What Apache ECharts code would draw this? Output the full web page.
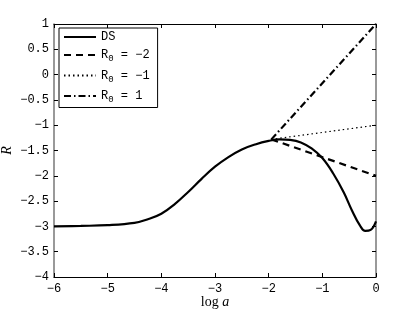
<!DOCTYPE html>
<html>
<head>
<meta charset="utf-8">
<script src="https://cdn.jsdelivr.net/npm/echarts@6/dist/echarts.min.js"></script>
<style>html,body{margin:0;padding:0;background:#fff}#c{width:415px;height:313px}</style>
</head>
<body>
<div id="c"></div>
<script>
const dsX = [-6, -5.5, -5, -4.5, -4.25, -4, -3.75, -3.5, -3.25, -3, -2.75, -2.5, -2.25, -2, -1.8, -1.6, -1.4, -1.2, -1.0, -0.8, -0.6, -0.45, -0.3, -0.2, -0.1, 0];
const dsY = [-3.00, -2.99, -2.975, -2.93, -2.86, -2.75, -2.56, -2.32, -2.06, -1.82, -1.63, -1.48, -1.38, -1.31, -1.28, -1.29, -1.34, -1.46, -1.65, -1.95, -2.33, -2.68, -2.98, -3.09, -3.07, -2.90];
const lineX = [-1.95, 0];
const r0m2Y = [-1.28, -2];
const r0m1Y = [-1.28, -1];
const r0p1Y = [-1.28, 1];
const xTicks = [-6, -5, -4, -3, -2, -1, 0];
const yTicks = [-4, -3.5, -3, -2.5, -2, -1.5, -1, -0.5, 0, 0.5, 1];

const pairs = (xs, ys) => xs.map((x, i) => [x, ys[i]]);
const fmt = v => (v < 0 ? '\u2212' : '') + String(Math.abs(v));
const mono = '"Liberation Mono", "DejaVu Sans Mono", monospace';

const chart = echarts.init(document.getElementById('c'), null, {renderer: 'canvas'});
const baseX = {type: 'value', min: -6, max: 0, interval: 1, splitLine: {show: false}};
const baseY = {type: 'value', min: -4, max: 1, interval: 0.5, splitLine: {show: false}};
chart.setOption({
  animation: false,
  backgroundColor: '#fff',
  grid: {left: 54, right: 39, top: 24, bottom: 36, containLabel: false, outerBoundsMode: 'none'},
  xAxis: [
    Object.assign({}, baseX, {
      position: 'bottom',
      axisLine: {show: true, onZero: false, lineStyle: {color: '#000', width: 1}},
      axisTick: {show: true, inside: true, length: 4, lineStyle: {color: '#000'}},
      axisLabel: {formatter: fmt, color: '#000', fontFamily: mono, fontSize: 12, margin: 6},
      name: '{n|log }{i|a}', nameLocation: 'middle', nameGap: 18, nameMoveOverlap: false,
      nameTextStyle: {rich: {n: {fontFamily: '"Liberation Serif", serif', fontSize: 14, color: '#000'}, i: {fontFamily: '"Liberation Serif", serif', fontStyle: 'italic', fontSize: 14, color: '#000'}}}
    }),
    Object.assign({}, baseX, {
      position: 'top',
      axisLine: {show: true, onZero: false, lineStyle: {color: '#000', width: 1}},
      axisTick: {show: true, inside: true, length: 4, lineStyle: {color: '#000'}},
      axisLabel: {show: false}
    })
  ],
  yAxis: [
    Object.assign({}, baseY, {
      position: 'left',
      axisLine: {show: true, onZero: false, lineStyle: {color: '#777', width: 1.5}},
      axisTick: {show: true, inside: true, length: 4, lineStyle: {color: '#000'}},
      axisLabel: {formatter: fmt, color: '#000', fontFamily: mono, fontSize: 12, margin: 5},
      name: 'R', nameLocation: 'middle', nameGap: 40, nameRotate: 90, nameMoveOverlap: false,
      nameTextStyle: {fontFamily: '"Liberation Serif", serif', fontStyle: 'italic', fontSize: 14, color: '#000'}
    }),
    Object.assign({}, baseY, {
      position: 'right',
      axisLine: {show: true, onZero: false, lineStyle: {color: '#777', width: 1.5}},
      axisTick: {show: true, inside: true, length: 4, lineStyle: {color: '#000'}},
      axisLabel: {show: false}
    })
  ],
  legend: {
    orient: 'vertical', left: 59, top: 28,
    backgroundColor: '#fff', borderColor: '#000', borderWidth: 1, padding: [3, 8, 3, 4],
    itemWidth: 32, itemHeight: 14, itemGap: 6,
    itemStyle: {opacity: 0},
    textStyle: {fontFamily: mono, fontSize: 12, color: '#000',
      rich: {s: {fontFamily: mono, fontSize: 9, color: '#000', verticalAlign: 'bottom', padding: [8, 0, 0, 0]}}},
    formatter: function (name) {
      if (name === 'DS') return 'DS';
      const v = name.replace('R0 = ', '');
      return 'R{s|0} = ' + v;
    },
    data: ['DS', 'R0 = \u22122', 'R0 = \u22121', 'R0 = 1']
  },
  series: [
    {name: 'DS', type: 'line', data: pairs(dsX, dsY), smooth: 0.4, symbol: 'none',
      lineStyle: {color: '#000', width: 2.2}, itemStyle: {color: '#000'}},
    {name: 'R0 = \u22122', type: 'line', data: pairs(lineX, r0m2Y), symbol: 'none',
      lineStyle: {color: '#000', width: 2.2, type: [7, 5]}, itemStyle: {color: '#000'}},
    {name: 'R0 = \u22121', type: 'line', data: pairs(lineX, r0m1Y), symbol: 'none',
      lineStyle: {color: '#000', width: 1.2, type: [1.5, 3]}, itemStyle: {color: '#000'}},
    {name: 'R0 = 1', type: 'line', data: pairs(lineX, r0p1Y), symbol: 'none',
      lineStyle: {color: '#000', width: 2.2, type: [7, 3, 1.5, 3]}, itemStyle: {color: '#000'}}
  ]
});
</script>
</body>
</html>
